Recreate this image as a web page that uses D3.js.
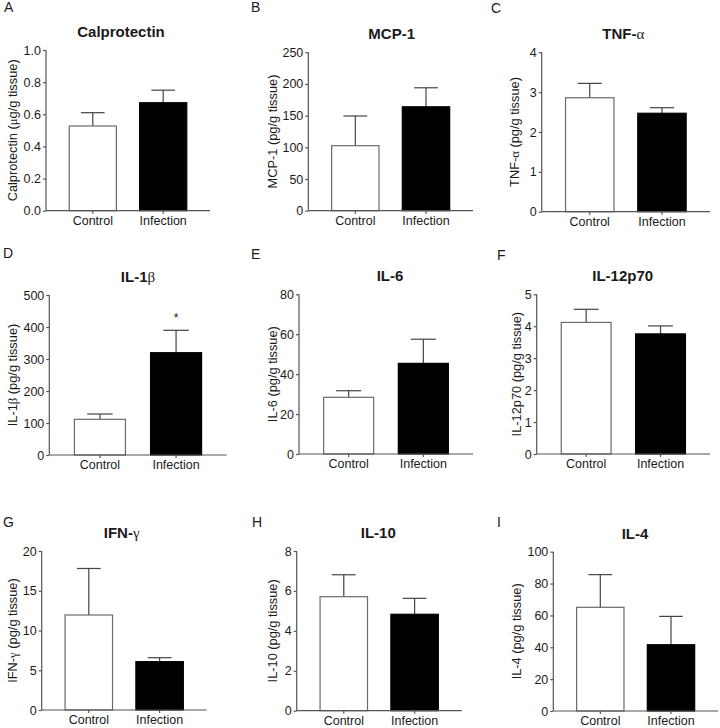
<!DOCTYPE html>
<html>
<head>
<meta charset="utf-8">
<script src="https://cdn.jsdelivr.net/npm/d3@7"></script>
<style>
  html, body { margin: 0; padding: 0; background: #fff; }
  svg { display: block; font-family: "Liberation Sans", Arial, sans-serif; }
</style>
</head>
<body>
<svg id="chart" width="720" height="728"></svg>
<script>
// ---- data ----
const panelLetters = ["A", "B", "C", "D", "E", "F", "G", "H", "I"];
const titles = ["Calprotectin", "MCP-1", "TNF-α", "IL-1β", "IL-6", "IL-12p70", "IFN-γ", "IL-10", "IL-4"];
const yLabels = [
  "Calprotectin (μg/g tissue)", "MCP-1 (pg/g tissue)", "TNF-α (pg/g tissue)",
  "IL-1β (pg/g tissue)", "IL-6 (pg/g tissue)", "IL-12p70 (pg/g tissue)",
  "IFN-γ (pg/g tissue)", "IL-10 (pg/g tissue)", "IL-4 (pg/g tissue)"
];
const categories = ["Control", "Infection"];
const yMax = [1.0, 250, 4, 500, 80, 5, 20, 8, 100];
const yTickValues = [
  [0, 0.2, 0.4, 0.6, 0.8, 1.0],
  [0, 50, 100, 150, 200, 250],
  [0, 1, 2, 3, 4],
  [0, 100, 200, 300, 400, 500],
  [0, 20, 40, 60, 80],
  [0, 1, 2, 3, 4, 5],
  [0, 5, 10, 15, 20],
  [0, 2, 4, 6, 8],
  [0, 20, 40, 60, 80, 100]
];
const yTickFormats = [".1f", "d", "d", "d", "d", "d", "d", "d", "d"];
const controlMean = [0.527, 102.6, 2.86, 111.5, 28.4, 4.12, 11.95, 5.71, 65.1];
const controlSEM  = [0.083, 46.9, 0.36, 16.5, 3.3, 0.41, 5.85, 1.10, 20.5];
const infectionMean = [0.672, 164, 2.47, 319.7, 45.4, 3.76, 6.08, 4.83, 41.6];
const infectionSEM  = [0.078, 30, 0.14, 70, 12.1, 0.25, 0.5, 0.80, 17.8];
const significance = ["", "", "", "*", "", "", "", "", ""];

// ---- layout (positions only) ----
const layout = [
  {x0: 46,    x1: 210,   yT: 50,    yB: 210.7, lx: 4,   ly: 12,  ax: 13,    tx: 121},
  {x0: 308.3, x1: 473,   yT: 52.3,  yB: 210.7, lx: 251, ly: 12,  ax: 273,   tx: 391.7},
  {x0: 541.7, x1: 710,   yT: 52.3,  yB: 211.7, lx: 491, ly: 13,  ax: 515,   tx: 623.3},
  {x0: 49.3,  x1: 226.7, yT: 295,   yB: 455,   lx: 3,   ly: 258, ax: 13,    tx: 138},
  {x0: 299,   x1: 473,   yT: 294.3, yB: 454,   lx: 251, ly: 259, ax: 273,   tx: 390},
  {x0: 536.7, x1: 710,   yT: 294.3, yB: 454,   lx: 497, ly: 260, ax: 516.7, tx: 622.7},
  {x0: 41.7,  x1: 206.7, yT: 551,   yB: 710,   lx: 3,   ly: 527, ax: 13,    tx: 121.7},
  {x0: 296.7, x1: 461.7, yT: 551,   yB: 710.7, lx: 252, ly: 527, ax: 273,   tx: 378.3},
  {x0: 553.3, x1: 718,   yT: 551.7, yB: 711,   lx: 497, ly: 527, ax: 516.7, tx: 635}
];

const svg = d3.select("#chart");
const AXIS = "#555";
const TEXT = "#1a1a1a";
const greekRe = /([αβγμ])/;

function richText(sel, str, greekWeight) {
  str.split(greekRe).filter(s => s.length).forEach(part => {
    const t = sel.append("tspan").text(part);
    if (greekRe.test(part)) {
      t.attr("font-family", "'Liberation Serif', 'DejaVu Serif', serif")
       .attr("font-weight", greekWeight || "normal");
    }
  });
}

panelLetters.forEach((letter, i) => {
  const L = layout[i];
  const g = svg.append("g");

  const x = d3.scaleBand().domain(categories).range([L.x0, L.x1])
    .paddingInner(0.33).paddingOuter(0.33);
  const y = d3.scaleLinear().domain([0, yMax[i]]).range([L.yB, L.yT]);

  const means = [controlMean[i], infectionMean[i]];
  const sems = [controlSEM[i], infectionSEM[i]];
  const rows = categories.map((c, k) => ({cat: c, mean: means[k], sem: sems[k], k}));

  // panel letter
  g.append("text").attr("x", L.lx).attr("y", L.ly)
    .attr("font-size", 14).attr("fill", TEXT).text(letter);

  // title
  const tt = g.append("text").attr("x", L.tx).attr("y", L.yT - 13)
    .attr("text-anchor", "middle").attr("font-size", 15).attr("font-weight", "bold")
    .attr("fill", TEXT);
  richText(tt, titles[i], "normal");

  // error bars (upper only)
  const capW = x.bandwidth() / 2;
  rows.forEach(r => {
    const cx = x(r.cat) + x.bandwidth() / 2;
    g.append("line").attr("x1", cx).attr("x2", cx)
      .attr("y1", y(r.mean)).attr("y2", y(r.mean + r.sem))
      .attr("stroke", "#444").attr("stroke-width", 1.2);
    g.append("line").attr("x1", cx - capW / 2).attr("x2", cx + capW / 2)
      .attr("y1", y(r.mean + r.sem)).attr("y2", y(r.mean + r.sem))
      .attr("stroke", "#444").attr("stroke-width", 1.2);
  });

  // bars
  g.selectAll("rect.bar").data(rows).enter().append("rect")
    .attr("class", "bar")
    .attr("x", d => x(d.cat))
    .attr("y", d => y(d.mean))
    .attr("width", x.bandwidth())
    .attr("height", d => y(0) - y(d.mean))
    .attr("fill", d => d.k === 0 ? "#fff" : "#000")
    .attr("stroke", d => d.k === 0 ? "#6a6a6a" : "#000")
    .attr("stroke-width", 1.2);

  // significance
  if (significance[i]) {
    const cx = x(categories[1]) + x.bandwidth() / 2;
    g.append("text").attr("x", cx).attr("y", y(infectionMean[i] + infectionSEM[i]) - 8)
      .attr("text-anchor", "middle").attr("font-size", 12).attr("fill", TEXT)
      .text(significance[i]);
  }

  // y axis
  const yAxis = d3.axisLeft(y).tickValues(yTickValues[i])
    .tickFormat(d3.format(yTickFormats[i])).tickSize(3).tickPadding(2);
  const ya = g.append("g").attr("transform", `translate(${L.x0},0)`).call(yAxis);
  ya.select(".domain").attr("d", `M0,${L.yT}V${L.yB}`).attr("stroke", AXIS).attr("stroke-width", 1.2);
  ya.selectAll(".tick line").attr("stroke", AXIS).attr("stroke-width", 1.2);
  ya.selectAll(".tick text").attr("font-size", 12.5).attr("fill", TEXT)
    .attr("font-family", "'Liberation Sans', Arial, sans-serif");

  // x axis
  const xAxis = d3.axisBottom(x).tickSize(3).tickPadding(2).tickSizeOuter(0);
  const xa = g.append("g").attr("transform", `translate(0,${L.yB})`).call(xAxis);
  xa.select(".domain").attr("d", `M${L.x0},0H${L.x1}`).attr("stroke", AXIS).attr("stroke-width", 1.2);
  xa.selectAll(".tick line").attr("stroke", AXIS).attr("stroke-width", 1.2);
  xa.selectAll(".tick text").attr("font-size", 12.5).attr("fill", TEXT)
    .attr("font-family", "'Liberation Sans', Arial, sans-serif");

  // y axis title
  const cy = (L.yT + L.yB) / 2;
  const yt = g.append("text")
    .attr("transform", `translate(${L.ax},${cy}) rotate(-90)`)
    .attr("text-anchor", "middle").attr("dy", "0.35em")
    .attr("font-size", 12.8).attr("fill", TEXT);
  richText(yt, yLabels[i], "normal");
});
</script>
</body>
</html>
